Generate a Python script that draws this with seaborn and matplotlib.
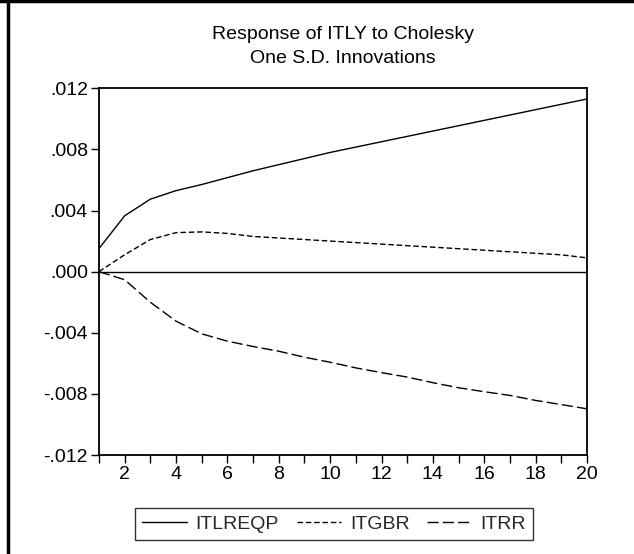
import matplotlib
matplotlib.use("Agg")
import matplotlib.pyplot as plt
from matplotlib.lines import Line2D
import seaborn as sns
import pandas as pd

sns.set_theme(style="white")
plt.rcParams['font.family'] = ['Liberation Sans', 'DejaVu Sans']

# Respuestas al impulso
periodos = list(range(1, 21))
itlreqp = [0.0015, 0.00365, 0.00474, 0.0053, 0.0057, 0.00615, 0.0066, 0.0070, 0.0074, 0.0078,
           0.00815, 0.0085, 0.00885, 0.0092, 0.00955, 0.0099, 0.01025, 0.0106, 0.01095, 0.0113]
itgbr = [0.0, 0.0011, 0.0021, 0.00255, 0.0026, 0.0025, 0.0023, 0.0022, 0.0021, 0.0020,
         0.0019, 0.0018, 0.0017, 0.0016, 0.0015, 0.0014, 0.0013, 0.0012, 0.0011, 0.0009]
itrr = [0.0, -0.00053, -0.0020, -0.00324, -0.00407, -0.00455, -0.0049, -0.00521, -0.0056, -0.00593,
        -0.0063, -0.00661, -0.0069, -0.00727, -0.0076, -0.00786, -0.0081, -0.00843, -0.0087, -0.00898]
series = ['ITLREQP', 'ITGBR', 'ITRR']
yticks = [0.012, 0.008, 0.004, 0.0, -0.004, -0.008, -0.012]

df = pd.DataFrame({'periodo': periodos, 'ITLREQP': itlreqp, 'ITGBR': itgbr, 'ITRR': itrr})
df = df.melt(id_vars='periodo', var_name='serie', value_name='respuesta')

fig = plt.figure(figsize=(6.34, 5.54), dpi=100)
ax = fig.add_axes([0.156, 0.1787, 0.770, 0.662])

estilos = {'ITLREQP': '', 'ITGBR': (4, 2), 'ITRR': (8, 3)}
sns.lineplot(data=df, x='periodo', y='respuesta', hue='serie', style='serie',
             hue_order=series, style_order=series,
             palette=['black'] * 3, dashes=estilos, linewidth=1.0, ax=ax, legend=False)

ax.axhline(0, color='black', linewidth=1.0)

ax.set_xlim(1, 20)
ax.set_ylim(-0.012, 0.012)
ax.set_xticks(range(1, 21))
ax.set_xticklabels([str(p) if p % 2 == 0 else '' for p in periodos])
ax.set_yticks(yticks)
ax.set_yticklabels(['.012', '.008', '.004', '.000', '-.004', '-.008', '-.012'])
ax.tick_params(axis='both', direction='out', length=6, width=1, color='black',
               labelsize=14, labelcolor='black', bottom=True, left=True, pad=2)
ax.set_xlabel('')
ax.set_ylabel('')
for s in ax.spines.values():
    s.set_color('black')
    s.set_linewidth(1.3)

ax.set_title('Response of ITLY to Cholesky\nOne S.D. Innovations', fontsize=14,
             color='black', pad=18, linespacing=1.55)

handles = [Line2D([], [], color='black', lw=1.0, linestyle='-'),
           Line2D([], [], color='black', lw=1.0, dashes=(4, 2)),
           Line2D([], [], color='black', lw=1.0, dashes=(8, 3))]
leg = fig.legend(handles, series, loc='center', bbox_to_anchor=(0.527, 0.054), ncol=3,
                 fontsize=14, frameon=True, fancybox=False, handlelength=2.3,
                 columnspacing=0.9, handletextpad=0.45, borderpad=0.35, borderaxespad=0)
leg.get_frame().set_edgecolor('black')
leg.get_frame().set_linewidth(1.0)

# Marco exterior de la figura
fig.add_artist(Line2D([0, 1], [0.998, 0.998], transform=fig.transFigure, color='black', lw=2.5))
fig.add_artist(Line2D([0.012, 0.012], [0, 1], transform=fig.transFigure, color='black', lw=2.5))

fig.savefig('out.png', dpi=100)
